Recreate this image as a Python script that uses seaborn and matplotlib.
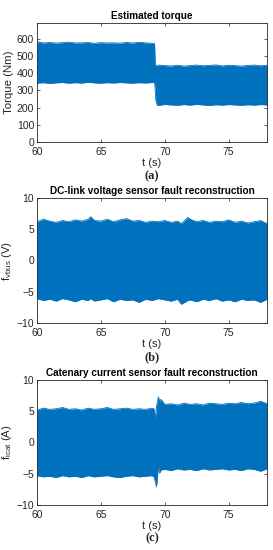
import matplotlib
matplotlib.use("Agg")
import matplotlib.pyplot as plt
import seaborn as sns
import numpy as np

sns.set_style("white")
plt.rcParams['font.family'] = ['Liberation Sans', 'DejaVu Sans']

BLUE = "#0072BD"

# ---- Panel (a): estimated torque envelope (Nm) ----
t_a = [60, 60.1, 60.5, 61, 61.5, 62, 62.5, 63, 63.5, 64, 64.5, 65, 65.5, 66, 66.5, 67, 67.5, 68, 68.5, 69.0,
       69.2, 69.25, 69.3, 69.4, 69.5, 70, 70.5, 71, 71.5, 72, 72.5, 73, 73.5, 74, 74.5, 75, 75.5, 76, 76.5, 77, 77.5, 78]
up_a = [560, 580, 574, 577, 573, 576, 579, 574, 575, 577, 572, 576, 574, 575, 573, 577, 574, 578, 575, 572,
        570, 445, 444, 441, 446, 443, 441, 445, 440, 443, 446, 442, 444, 447, 441, 445, 443, 440, 444, 446, 442, 445]
lo_a = [335, 342, 344, 340, 343, 345, 341, 344, 342, 346, 343, 341, 344, 342, 345, 343, 341, 344, 342, 345,
        345, 300, 240, 215, 212, 218, 215, 213, 217, 214, 218, 215, 212, 216, 214, 217, 215, 213, 216, 214, 217, 215]

# ---- Panel (b): DC-link voltage fault reconstruction envelope (V) ----
t_b = [60, 60.5, 61, 61.5, 62, 62.5, 63, 63.5, 64, 64.2, 64.5, 65, 65.5, 66, 66.5, 67, 67.5, 68, 68.5, 69,
       69.5, 70, 70.5, 71, 71.3, 71.8, 72, 72.5, 73, 73.5, 74, 74.5, 75, 75.5, 76, 76.5, 77, 77.5, 78]
up_b = [6.2, 6.6, 6.3, 6.1, 6.4, 6.2, 6.5, 6.3, 6.6, 7.0, 6.4, 6.3, 6.6, 6.2, 6.5, 6.7, 6.3, 6.4, 6.1, 6.3,
        6.2, 6.4, 6.1, 6.3, 5.9, 6.9, 6.6, 6.2, 6.4, 6.1, 6.3, 6.2, 6.5, 6.1, 6.3, 6.0, 6.2, 6.4, 5.9]
lo_b = [-6.1, -6.4, -6.2, -6.5, -6.1, -6.3, -6.6, -6.2, -6.4, -6.1, -6.5, -6.3, -6.1, -6.6, -6.2, -6.4, -6.3, -6.7, -6.2, -6.4,
        -6.1, -6.3, -6.5, -6.2, -7.0, -6.4, -6.3, -6.6, -6.2, -6.4, -6.1, -6.5, -6.3, -6.6, -6.2, -6.4, -6.3, -6.7, -6.2]

# ---- Panel (c): catenary current fault reconstruction envelope (A) ----
t_c = [60, 60.5, 61, 61.5, 62, 62.5, 63, 63.5, 64, 64.5, 65, 65.5, 66, 66.5, 67, 67.5, 68, 68.5, 69, 69.15,
       69.25, 69.35, 69.5, 69.6, 69.7, 70, 70.5, 71, 71.5, 72, 72.5, 73, 73.5, 74, 74.5, 75, 75.5, 76, 76.5, 77, 77.5, 78]
up_c = [5.2, 5.5, 5.3, 5.4, 5.6, 5.3, 5.4, 5.2, 5.5, 5.3, 5.4, 5.6, 5.3, 5.4, 5.5, 5.3, 5.4, 5.3, 5.5, 5.4,
        3.7, 5.8, 7.3, 6.6, 6.9, 6.1, 6.2, 6.0, 6.3, 6.1, 6.2, 6.0, 6.3, 6.2, 6.1, 6.3, 6.2, 6.4, 6.2, 6.3, 6.6, 6.2]
lo_c = [-5.3, -5.5, -5.4, -5.6, -5.3, -5.5, -5.4, -5.6, -5.3, -5.5, -5.4, -5.3, -5.5, -5.6, -5.4, -5.3, -5.5, -5.4, -5.3, -5.5,
        -6.2, -7.1, -3.8, -4.9, -4.4, -4.3, -4.5, -4.2, -4.4, -4.3, -4.5, -4.2, -4.4, -4.3, -4.2, -4.4, -4.3, -4.5, -4.2, -4.3, -4.6, -4.2]

titles = ["Estimated torque", "DC-link voltage sensor fault reconstruction",
          "Catenary current sensor fault reconstruction"]
ylabels = ["Torque (Nm)", r"f$_{\mathregular{vbus}}$ (V)", r"f$_{\mathregular{icat}}$ (A)"]
letters = ["(a)", "(b)", "(c)"]
xticks = [60, 65, 70, 75]
yticks = [[0, 100, 200, 300, 400, 500, 600], [-10, -5, 0, 5, 10], [-10, -5, 0, 5, 10]]
ylims = [(0, 690), (-10, 10), (-10, 10)]

W, H = 273, 550
fig = plt.figure(figsize=(W / 100, H / 100), dpi=100)
# axes boxes in pixels: (left, top, right, bottom)
boxes = [(37, 23, 267, 142), (37, 198, 267, 323), (37, 380, 267, 505)]
letter_y = [176, 357, 538]
data = [(t_a, up_a, lo_a), (t_b, up_b, lo_b), (t_c, up_c, lo_c)]

TXT = "#262626"
for i, (l, t, r, b) in enumerate(boxes):
    ax = fig.add_axes([l / W, 1 - b / H, (r - l) / W, (b - t) / H])
    tt, up, lo = data[i]
    ax.fill_between(tt, lo, up, color=BLUE, linewidth=0)
    sns.lineplot(x=tt, y=up, ax=ax, color=BLUE, linewidth=0.6)
    sns.lineplot(x=tt, y=lo, ax=ax, color=BLUE, linewidth=0.6)
    ax.set_xlim(60, 78)
    ax.set_ylim(*ylims[i])
    ax.set_xticks(xticks)
    ax.set_yticks(yticks[i])
    ax.tick_params(direction="in", length=2.5, width=0.5, labelsize=7.5, colors=TXT, pad=2,
                   top=True, right=True, bottom=True, left=True)
    ax.tick_params(axis="x", pad=3.5)
    for s in ax.spines.values():
        s.set_linewidth(0.6)
        s.set_color(TXT)
    ax.set_title(titles[i], fontsize=7.2, fontweight="bold", color="black", pad=3)
    ax.set_xlabel("t (s)", fontsize=8, color=TXT, labelpad=0.5)
    ax.set_ylabel(ylabels[i], fontsize=8.2, color=TXT, labelpad=2)
    fig.text(152 / W, 1 - letter_y[i] / H, letters[i], ha="center", va="center",
             fontsize=9, fontweight="bold", family="Liberation Serif", color=TXT)

fig.savefig("out.png", dpi=100)
